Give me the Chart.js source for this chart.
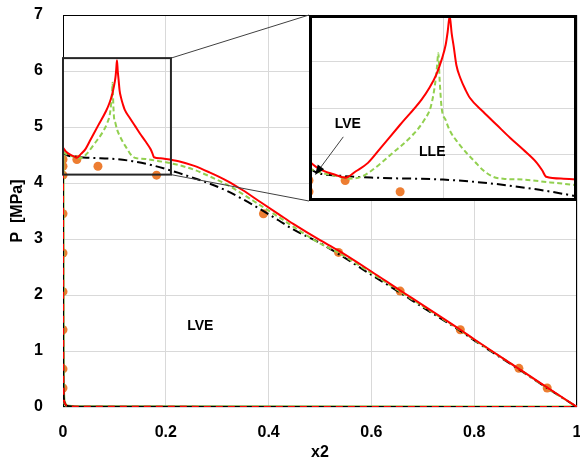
<!DOCTYPE html>
<html>
<head>
<meta charset="utf-8">
<script src="https://cdn.jsdelivr.net/npm/chart.js@4.4.1/dist/chart.umd.min.js"></script>
<style>
  body { margin: 0; background: #fff; }
  #wrap { position: relative; width: 580px; height: 462px; }
  #main { position: absolute; left: 0; top: 0; }
  #insetBox { position: absolute; left: 309px; top: 15px; width: 268px; height: 186px; background: #fff; }
</style>
</head>
<body>
<div id="wrap">
  <canvas id="main" width="580" height="462"></canvas>
  <div id="insetBox"><canvas id="inset" width="268" height="186"></canvas></div>
</div>
<script>
// Eixos
const xTicks = [0, 0.2, 0.4, 0.6, 0.8, 1];
const yTicks = [0, 1, 2, 3, 4, 5, 6, 7];
const insetXTicks = [0, 0.1, 0.2];
const insetYTicks = [4.2, 4.7, 5.2, 5.7, 6.2];

// Curva de bolha (modelo 1, vermelho)
const redX = [0, 0.005, 0.01, 0.02, 0.027, 0.035, 0.044, 0.054, 0.068, 0.084, 0.090, 0.095, 0.099, 0.102, 0.1035, 0.105,
  0.1065, 0.108, 0.110, 0.113, 0.117, 0.120, 0.130, 0.140, 0.150, 0.160, 0.170, 0.174, 0.177, 0.190, 0.200,
  0.225, 0.254, 0.285, 0.319, 0.350, 0.384, 0.420, 0.448, 0.500, 0.533, 0.600, 0.656, 0.700, 0.773, 0.800, 0.884, 0.940, 1];
const redP = [4.63, 4.57, 4.53, 4.48, 4.45, 4.52, 4.61, 4.78, 5.02, 5.29, 5.42, 5.56, 5.72, 5.88, 6.02, 6.19,
  6.00, 5.86, 5.66, 5.52, 5.39, 5.31, 5.16, 5.02, 4.88, 4.75, 4.61, 4.53, 4.46, 4.44, 4.43,
  4.39, 4.31, 4.19, 4.04, 3.87, 3.66, 3.44, 3.27, 2.98, 2.81, 2.42, 2.08, 1.82, 1.38, 1.21, 0.70, 0.36, 0];

// Curva de bolha (modelo 2, verde)
const greenX = [0, 0.01, 0.02, 0.029, 0.039, 0.047, 0.062, 0.078, 0.086, 0.091, 0.094, 0.0955, 0.0965,
  0.0975, 0.099, 0.102, 0.105, 0.111, 0.118, 0.124, 0.130, 0.1375, 0.145, 0.160, 0.180, 0.200,
  0.225, 0.254, 0.285, 0.319, 0.350, 0.384, 0.420, 0.448, 0.500, 0.533, 0.600, 0.656, 0.700, 0.773, 0.800, 0.884, 0.940, 1];
const greenP = [4.55, 4.50, 4.47, 4.44, 4.46, 4.53, 4.71, 4.92, 5.07, 5.22, 5.45, 5.64, 5.79,
  5.50, 5.20, 5.07, 4.96, 4.83, 4.71, 4.62, 4.53, 4.46, 4.44, 4.43, 4.40, 4.37,
  4.32, 4.24, 4.12, 3.97, 3.80, 3.60, 3.39, 3.22, 2.92, 2.77, 2.39, 2.06, 1.80, 1.37, 1.20, 0.70, 0.35, 0];

// Curva de bolha (modelo 3, preto traço-ponto)
const blackX = [0, 0.005, 0.025, 0.05, 0.10, 0.135, 0.172, 0.200, 0.225, 0.254, 0.285, 0.319, 0.350, 0.384,
  0.420, 0.448, 0.500, 0.533, 0.600, 0.656, 0.700, 0.773, 0.800, 0.884, 0.940, 1];
const blackP = [4.56, 4.51, 4.47, 4.45, 4.43, 4.39, 4.32, 4.25, 4.18, 4.09, 3.99, 3.86, 3.71, 3.53,
  3.33, 3.17, 2.93, 2.75, 2.36, 2.04, 1.78, 1.36, 1.19, 0.69, 0.35, 0];

// Curvas de orvalho
const dewX = [0, 0.0003, 0.001, 0.003, 0.008, 0.03, 1];
const redDewP = [4.63, 1.5, 0.3, 0.08, 0.02, 0.005, 0];
const greenDewP = [4.59, 1.5, 0.3, 0.08, 0.02, 0.005, 0];
const blackDewP = [4.56, 1.5, 0.3, 0.08, 0.02, 0.005, 0];

// Dados experimentais
const expX = [0, 0, 0, 0, 0, 0, 0, 0, 0, 0.027, 0.068, 0.182, 0.390, 0.536, 0.656, 0.773, 0.887, 0.942];
const expP = [0.34, 0.68, 1.38, 2.06, 2.75, 3.45, 4.14, 4.30, 4.42, 4.42, 4.30, 4.14, 3.45, 2.76, 2.07, 1.38, 0.69, 0.34];

const FONT = "'Liberation Sans', Arial, sans-serif";
const zoomBox = { xMin: 0, xMax: 0.21, yMin: 4.15, yMax: 6.23 };
const insetPos = { left: 309, top: 15, w: 268, h: 186 };

const toXY = (xs, ys) => xs.map((x, i) => ({ x: x, y: ys[i] }));

// sem folgas extras calculadas pelo Chart.js
function noPad(s) {
    s.paddingLeft = 0; s.paddingRight = 0; s.paddingTop = 0; s.paddingBottom = 0;
}

function makeDatasets(lw) {
    const curve = { showLine: true, pointRadius: 0, borderWidth: lw, cubicInterpolationMode: 'monotone' };
    return [
        { data: toXY(expX, expP), showLine: false, pointRadius: 4.5, pointBackgroundColor: '#ED7D31',
          pointBorderWidth: 0, order: 20 },
        { ...curve, data: toXY(dewX, greenDewP), borderColor: '#92D050', borderWidth: 3, order: 12 },
        { ...curve, data: toXY(dewX, blackDewP), borderColor: '#000', order: 11 },
        { ...curve, data: toXY(dewX, redDewP), borderColor: '#FF0000', borderDash: [7, 5], order: 10 },
        { ...curve, data: toXY(blackX, blackP), borderColor: '#000', borderDash: [9, 4, 2, 4], order: 4 },
        { ...curve, data: toXY(greenX, greenP), borderColor: '#92D050', borderDash: [5, 3], order: 3 },
        { ...curve, data: toXY(redX, redP), borderColor: '#FF0000', order: 2 }
    ];
}

// Moldura, retângulo do zoom e rótulos do gráfico principal
const mainDecor = {
    id: 'mainDecor',
    beforeDatasetsDraw(chart) {
        const { ctx, chartArea: a } = chart;
        ctx.save();
        ctx.strokeStyle = '#000';
        ctx.lineWidth = 1;
        ctx.strokeRect(a.left + 0.5, a.top + 0.5, a.right - a.left - 1, a.bottom - a.top - 1);
        ctx.restore();
    },
    afterDatasetsDraw(chart) {
        const { ctx, scales: { x, y } } = chart;
        const l = x.getPixelForValue(zoomBox.xMin), r = x.getPixelForValue(zoomBox.xMax);
        const t = y.getPixelForValue(zoomBox.yMax), b = y.getPixelForValue(zoomBox.yMin);
        ctx.save();
        ctx.strokeStyle = '#404040';
        ctx.lineWidth = 1;
        ctx.beginPath();
        ctx.moveTo(r, t); ctx.lineTo(insetPos.left, insetPos.top);
        ctx.moveTo(r, b); ctx.lineTo(insetPos.left, insetPos.top + insetPos.h);
        ctx.stroke();
        ctx.strokeStyle = '#262626';
        ctx.lineWidth = 2;
        ctx.strokeRect(l, t, r - l, b - t);
        ctx.fillStyle = '#000';
        ctx.font = 'bold 14px ' + FONT;
        ctx.textAlign = 'center';
        ctx.textBaseline = 'middle';
        ctx.fillText('LVE', x.getPixelForValue(0.267), y.getPixelForValue(1.44));
        ctx.restore();
    }
};

new Chart(document.getElementById('main'), {
    type: 'scatter',
    data: { datasets: makeDatasets(2) },
    options: {
        responsive: false,
        animation: false,
        layout: { autoPadding: false, padding: { top: 15, right: 3, bottom: 0, left: 0 } },
        plugins: { legend: { display: false }, tooltip: { enabled: false } },
        scales: {
            x: {
                type: 'linear', min: 0, max: 1,
                afterBuildTicks: s => { s.ticks = xTicks.map(v => ({ value: v })); },
                afterFit: s => { s.height = 55; noPad(s); },
                grid: { color: '#d9d9d9', drawTicks: false },
                border: { display: false },
                ticks: { color: '#000', padding: 16, maxRotation: 0, callback: v => String(v),
                         font: { family: FONT, size: 16, weight: 'bold' } },
                title: { display: true, text: 'x2', color: '#000', padding: { top: -1, bottom: 0 },
                         font: { family: FONT, size: 16, weight: 'bold' } }
            },
            y: {
                type: 'linear', min: 0, max: 7,
                afterBuildTicks: s => { s.ticks = yTicks.map(v => ({ value: v })); },
                afterFit: s => { s.width = 63; noPad(s); },
                grid: { color: '#d9d9d9', drawTicks: false },
                border: { display: false },
                ticks: { color: '#000', padding: 20, callback: v => String(v),
                         font: { family: FONT, size: 16, weight: 'bold' } },
                title: { display: true, text: 'P  [MPa]', color: '#000', padding: { top: 8, bottom: 0 },
                         font: { family: FONT, size: 16, weight: 'bold' } }
            }
        }
    },
    plugins: [mainDecor]
});

// Rótulos, seta e moldura do detalhe
const insetDecor = {
    id: 'insetDecor',
    afterDatasetsDraw(chart) {
        const { ctx, chartArea: a, scales: { x, y } } = chart;
        ctx.save();
        ctx.fillStyle = '#000';
        ctx.font = 'bold 14px ' + FONT;
        ctx.textAlign = 'center';
        ctx.textBaseline = 'middle';
        ctx.fillText('LVE', x.getPixelForValue(0.029), y.getPixelForValue(5.03));
        ctx.fillText('LLE', x.getPixelForValue(0.092), y.getPixelForValue(4.72));
        const x0 = x.getPixelForValue(0.0256), y0 = y.getPixelForValue(4.89);
        const x1 = x.getPixelForValue(0.0045), y1 = y.getPixelForValue(4.48);
        const ang = Math.atan2(y1 - y0, x1 - x0);
        ctx.strokeStyle = '#404040';
        ctx.lineWidth = 1;
        ctx.beginPath();
        ctx.moveTo(x0, y0);
        ctx.lineTo(x1 - 6 * Math.cos(ang), y1 - 6 * Math.sin(ang));
        ctx.stroke();
        ctx.beginPath();
        ctx.moveTo(x1, y1);
        ctx.lineTo(x1 - 10 * Math.cos(ang) + 4 * Math.sin(ang), y1 - 10 * Math.sin(ang) - 4 * Math.cos(ang));
        ctx.lineTo(x1 - 10 * Math.cos(ang) - 4 * Math.sin(ang), y1 - 10 * Math.sin(ang) + 4 * Math.cos(ang));
        ctx.closePath();
        ctx.fill();
        ctx.strokeStyle = '#000';
        ctx.lineWidth = 3;
        ctx.strokeRect(a.left + 1.5, a.top + 1.5, a.right - a.left - 3, a.bottom - a.top - 3);
        ctx.restore();
    }
};

new Chart(document.getElementById('inset'), {
    type: 'scatter',
    data: { datasets: makeDatasets(2) },
    options: {
        responsive: false,
        animation: false,
        layout: { autoPadding: false, padding: 0 },
        plugins: { legend: { display: false }, tooltip: { enabled: false } },
        scales: {
            x: {
                type: 'linear', min: 0, max: 0.2,
                afterBuildTicks: s => { s.ticks = insetXTicks.map(v => ({ value: v })); },
                afterFit: s => { s.height = 0; noPad(s); },
                grid: { color: '#d9d9d9', drawTicks: false },
                border: { display: false },
                ticks: { display: false }
            },
            y: {
                type: 'linear', min: 4.2, max: 6.2,
                afterBuildTicks: s => { s.ticks = insetYTicks.map(v => ({ value: v })); },
                afterFit: s => { s.width = 0; noPad(s); },
                grid: { color: '#d9d9d9', drawTicks: false },
                border: { display: false },
                ticks: { display: false }
            }
        }
    },
    plugins: [insetDecor]
});
</script>
</body>
</html>
